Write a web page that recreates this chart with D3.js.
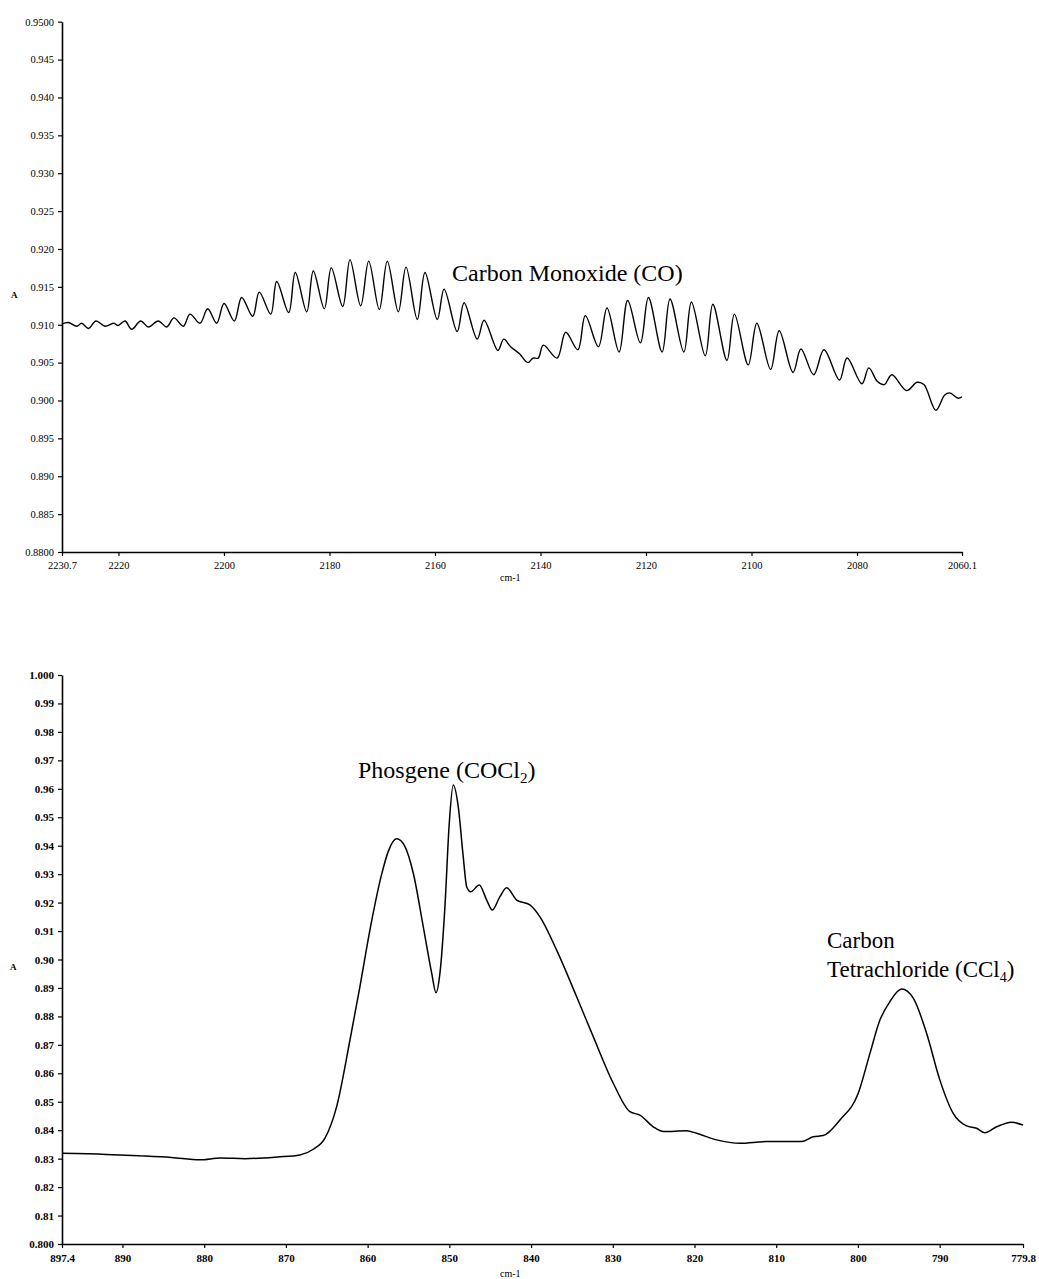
<!DOCTYPE html>
<html>
<head>
<meta charset="utf-8">
<script src="https://cdn.jsdelivr.net/npm/d3@7"></script>
<style>
body { margin: 0; background: #fff; }
text { font-family: "Liberation Serif", "Times New Roman", serif; fill: #000; }
</style>
</head>
<body>
<div id="chart"></div>
<script>
// top spectrum: carbon monoxide band (wavenumber cm-1, absorbance)
const coWave = [2230.7, 2229.51, 2227.91, 2226.97, 2225.71, 2224.25, 2222.55, 2220.84, 2220.08, 2218.76,
    2217.49, 2215.78, 2214.34, 2212.45, 2210.85, 2209.47, 2207.71, 2206.44, 2204.54, 2203.08,
    2201.37, 2199.99, 2198.04, 2196.64, 2194.55, 2193.30, 2191.14, 2190.00, 2187.73, 2186.48,
    2184.31, 2183.06, 2180.98, 2179.65, 2177.49, 2176.11, 2174.08, 2172.56, 2170.55, 2169.04,
    2166.95, 2165.49, 2163.35, 2161.89, 2159.56, 2158.27, 2155.79, 2154.48, 2151.99, 2150.69,
    2148.07, 2146.97, 2145.66, 2144.03, 2142.40, 2141.42, 2140.43, 2139.46, 2136.85, 2135.22,
    2132.92, 2131.50, 2129.02, 2127.39, 2125.10, 2123.47, 2121.06, 2119.54, 2116.95, 2115.45,
    2112.83, 2111.39, 2108.77, 2107.33, 2104.66, 2103.24, 2100.62, 2098.99, 2096.38, 2094.75,
    2092.13, 2090.63, 2088.21, 2086.26, 2083.32, 2081.88, 2079.07, 2077.76, 2076.13, 2074.82,
    2073.40, 2070.58, 2068.63, 2067.32, 2065.04, 2063.41, 2062.43, 2060.80, 2060.1];
const coAbs = [0.9101, 0.9103, 0.9098, 0.9102, 0.9095, 0.9105, 0.9098, 0.9102, 0.9099, 0.9105,
    0.9094, 0.9105, 0.9097, 0.9105, 0.9097, 0.9109, 0.9098, 0.9114, 0.9102, 0.9121,
    0.9102, 0.9128, 0.9105, 0.9136, 0.9111, 0.9143, 0.9114, 0.9157, 0.9116, 0.9169,
    0.9117, 0.9171, 0.9121, 0.9175, 0.9124, 0.9186, 0.9125, 0.9184, 0.9120, 0.9184,
    0.9117, 0.9176, 0.9107, 0.9169, 0.9107, 0.9147, 0.9091, 0.9129, 0.9081, 0.9106,
    0.9066, 0.9081, 0.9071, 0.9062, 0.9050, 0.9056, 0.9056, 0.9073, 0.9056, 0.9090,
    0.9067, 0.9112, 0.9071, 0.9122, 0.9064, 0.9132, 0.9076, 0.9136, 0.9064, 0.9134,
    0.9064, 0.9130, 0.9059, 0.9127, 0.9053, 0.9114, 0.9047, 0.9102, 0.9041, 0.9092,
    0.9037, 0.9068, 0.9034, 0.9067, 0.9027, 0.9056, 0.9022, 0.9043, 0.9025, 0.9021,
    0.9034, 0.9013, 0.9024, 0.9021, 0.8987, 0.9007, 0.9010, 0.9003, 0.9005];
const coTicksX = [2230.7, 2220, 2200, 2180, 2160, 2140, 2120, 2100, 2080, 2060.1];
const coTickLabelsX = ["2230.7", "2220", "2200", "2180", "2160", "2140", "2120", "2100", "2080", "2060.1"];
const coTicksY = [0.95, 0.945, 0.94, 0.935, 0.93, 0.925, 0.92, 0.915, 0.91, 0.905, 0.90, 0.895, 0.89, 0.885, 0.88];
const coTickLabelsY = ["0.9500", "0.945", "0.940", "0.935", "0.930", "0.925", "0.920", "0.915",
    "0.910", "0.905", "0.900", "0.895", "0.890", "0.885", "0.8800"];

// bottom spectrum: phosgene + carbon tetrachloride
const phWave = [897.4, 892, 888, 884, 880.5, 878, 875, 871, 868.28, 866.65,
    865.22, 863.79, 862.16, 860.94, 859.71, 858.28, 857.47, 856.45, 855.43, 854.41,
    853.19, 852.16, 851.64, 851.15, 850.54, 850.01, 849.52, 848.91, 848.30, 847.88,
    847.39, 846.34, 845.43, 844.75, 843.81, 842.99, 841.76, 840.14, 838.91, 836.87,
    834.42, 832.39, 829.94, 827.90, 826.68, 825.05, 823.8, 820.96, 819.74, 817.29,
    814.44, 811.17, 806.89, 805.47, 804.25, 802.20, 799.96, 798.53, 797.31, 796.09,
    794.65, 793.23, 791.60, 789.97, 788.34, 786.70, 785.48, 784.46, 783.03, 781.20, 779.8];
const phAbs = [0.8319, 0.8315, 0.8310, 0.8304, 0.8296, 0.8302, 0.8300, 0.8306, 0.8313, 0.8333,
    0.8372, 0.8483, 0.8717, 0.8905, 0.9105, 0.9300, 0.9380, 0.9424, 0.9397, 0.9303,
    0.9115, 0.8952, 0.8883, 0.8952, 0.9186, 0.9479, 0.9613, 0.9537, 0.9361, 0.9256,
    0.9238, 0.9262, 0.9209, 0.9174, 0.9221, 0.9252, 0.9209, 0.9192, 0.9150, 0.9033,
    0.8869, 0.8729, 0.8565, 0.8465, 0.8453, 0.8412, 0.8395, 0.8398, 0.8389, 0.8366,
    0.8354, 0.8360, 0.8360, 0.8377, 0.8381, 0.8436, 0.8530, 0.8670, 0.8787, 0.8852,
    0.8896, 0.8864, 0.8741, 0.8576, 0.8459, 0.8415, 0.8407, 0.8391, 0.8412, 0.8428, 0.8418];
const phTicksX = [897.4, 890, 880, 870, 860, 850, 840, 830, 820, 810, 800, 790, 779.8];
const phTickLabelsX = ["897.4", "890", "880", "870", "860", "850", "840", "830", "820", "810", "800", "790", "779.8"];
const phTicksY = [1.0, 0.99, 0.98, 0.97, 0.96, 0.95, 0.94, 0.93, 0.92, 0.91, 0.90,
    0.89, 0.88, 0.87, 0.86, 0.85, 0.84, 0.83, 0.82, 0.81, 0.80];
const phTickLabelsY = ["1.000", "0.99", "0.98", "0.97", "0.96", "0.95", "0.94", "0.93", "0.92", "0.91", "0.90",
    "0.89", "0.88", "0.87", "0.86", "0.85", "0.84", "0.83", "0.82", "0.81", "0.800"];

const svg = d3.select("#chart").append("svg")
    .attr("width", 1039)
    .attr("height", 1279);

function drawPanel(p) {
    const x = d3.scaleLinear().domain(p.xDomain).range([p.left, p.right]);
    const y = d3.scaleLinear().domain(p.yDomain).range([p.bottom, p.top]);

    const g = svg.append("g");

    const yAxis = d3.axisLeft(y)
        .tickValues(p.ticksY)
        .tickFormat((d, i) => p.labelsY[i])
        .tickSize(4)
        .tickSizeOuter(0)
        .tickPadding(4);
    const yg = g.append("g")
        .attr("transform", "translate(" + p.left + ",0)")
        .call(yAxis);

    const xAxis = d3.axisBottom(x)
        .tickValues(p.ticksX)
        .tickFormat((d, i) => p.labelsX[i])
        .tickSize(4)
        .tickSizeOuter(0)
        .tickPadding(6);
    const xg = g.append("g")
        .attr("transform", "translate(0," + p.bottom + ")")
        .call(xAxis);

    [yg, xg].forEach(a => {
        a.selectAll(".domain").attr("stroke", "#000").attr("stroke-width", 1.6);
        a.selectAll(".tick line").attr("stroke", "#000").attr("stroke-width", 1.2);
        a.selectAll("text")
            .attr("fill", "#000")
            .style("font-family", '"Liberation Serif", serif')
            .style("font-size", p.tickFont + "px")
            .style("font-weight", p.tickWeight);
    });

    // axis titles
    g.append("text")
        .attr("x", p.aPos[0]).attr("y", p.aPos[1])
        .style("font-size", "9px").style("font-weight", "bold")
        .text("A");
    g.append("text")
        .attr("x", p.cmPos[0]).attr("y", p.cmPos[1])
        .style("font-size", "10px")
        .text("cm-1");

    const pts = d3.zip(p.wave, p.abs);
    const line = d3.line()
        .x(d => x(d[0]))
        .y(d => y(d[1]))
        .curve(p.curve);

    g.append("path")
        .datum(pts)
        .attr("fill", "none")
        .attr("stroke", "#000")
        .attr("stroke-width", p.lineWidth)
        .attr("stroke-linejoin", "round")
        .attr("d", line);

    return g;
}

const topPanel = drawPanel({
    wave: coWave, abs: coAbs,
    xDomain: [2230.7, 2060.1], yDomain: [0.88, 0.95],
    left: 62, right: 962, top: 21.7, bottom: 552,
    ticksX: coTicksX, labelsX: coTickLabelsX,
    ticksY: coTicksY, labelsY: coTickLabelsY,
    tickFont: 10.5, tickWeight: "normal",
    aPos: [11, 298], cmPos: [500, 581],
    lineWidth: 1.4,
    curve: d3.curveCatmullRom.alpha(0.5)
});

const bottomPanel = drawPanel({
    wave: phWave, abs: phAbs,
    xDomain: [897.4, 779.8], yDomain: [0.8, 1.0],
    left: 62, right: 1023, top: 675, bottom: 1244,
    ticksX: phTicksX, labelsX: phTickLabelsX,
    ticksY: phTicksY, labelsY: phTickLabelsY,
    tickFont: 11, tickWeight: "bold",
    aPos: [10, 970], cmPos: [500, 1277],
    lineWidth: 1.5,
    curve: d3.curveMonotoneX
});

// band labels
topPanel.append("text")
    .attr("x", 452).attr("y", 281)
    .style("font-size", "24px")
    .text("Carbon Monoxide (CO)");

const phos = bottomPanel.append("text")
    .attr("x", 358).attr("y", 778)
    .style("font-size", "24px");
phos.append("tspan").text("Phosgene (COCl");
phos.append("tspan").attr("dy", 5).style("font-size", "15px").text("2");
phos.append("tspan").attr("dy", -5).text(")");

bottomPanel.append("text")
    .attr("x", 827).attr("y", 948)
    .style("font-size", "23px")
    .text("Carbon");
const ccl = bottomPanel.append("text")
    .attr("x", 827).attr("y", 977)
    .style("font-size", "23px");
ccl.append("tspan").text("Tetrachloride (CCl");
ccl.append("tspan").attr("dy", 5).style("font-size", "14px").text("4");
ccl.append("tspan").attr("dy", -5).text(")");
</script>
</body>
</html>
